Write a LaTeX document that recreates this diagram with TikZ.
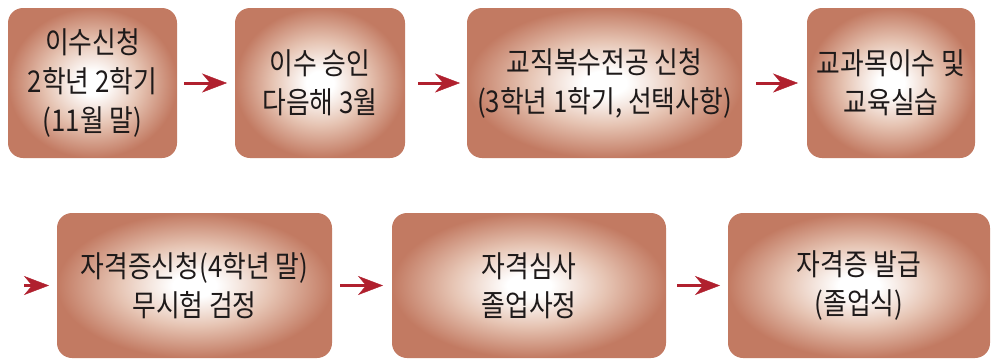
\documentclass[tikz,border=0pt]{standalone}
\usepackage{fontspec}
\setmainfont{Noto Sans CJK KR}[FakeStretch=0.86]
\usetikzlibrary{arrows.meta}
\definecolor{boxbrown}{HTML}{C27A62}
\definecolor{boxmid}{HTML}{E6C4B3}
\definecolor{arrred}{HTML}{B0202E}
\definecolor{txt}{HTML}{1E1A1A}
\pgfdeclareradialshading{boxglow}{\pgfpoint{0bp}{0bp}}{color(0bp)=(white); color(4bp)=(white); color(14bp)=(boxmid); color(25bp)=(boxbrown); color(50bp)=(boxbrown)}
\begin{document}
\begin{tikzpicture}[x=1pt,y=-1pt,
  stepbox/.style 2 args={rounded corners=15pt, shading=boxglow, outer sep=0pt, inner sep=0pt,
    minimum width=#1, minimum height=#2, align=center, text=txt,
    font=\fontsize{30}{39}\selectfont},
  arr/.style={draw=arrred, line width=3pt,
    -{Stealth[length=25pt,width=19pt,inset=8pt,line width=0.4pt,fill=arrred]}}]
\useasboundingbox (0,0) rectangle (992,360);
% row 1
\node[stepbox={169pt}{150pt}] (b1) at (92.5,83) {이수신청\\2학년 2학기\\(11월 말)};
\node[stepbox={170pt}{150pt}] (b2) at (320,83) {이수 승인\\다음해 3월};
\node[stepbox={275pt}{150pt}] (b3) at (604.5,83) {교직복수전공 신청\\(3학년 1학기, 선택사항)};
\node[stepbox={168pt}{150pt}] (b4) at (891,83) {교과목이수 및\\교육실습};
% row 2
\node[stepbox={275pt}{145pt}] (b5) at (194.5,285.5) {자격증신청(4학년 말)\\무시험 검정};
\node[stepbox={274pt}{145pt}] (b6) at (529,285.5) {자격심사\\졸업사정};
\node[stepbox={262pt}{145pt}] (b7) at (859,285.5) {자격증 발급\\(졸업식)};
\coordinate (c0) at (24,285.5);
% connectors
\draw[arr, shorten <=7pt, shorten >=8pt] (b1) -- (b2);
\draw[arr, shorten <=13pt, shorten >=7pt] (b2) -- (b3);
\draw[arr, shorten <=14pt, shorten >=9pt] (b3) -- (b4);
\draw[arr, shorten >=8pt] (c0) -- (b5);
\draw[arr, shorten <=8pt, shorten >=9pt] (b5) -- (b6);
\draw[arr, shorten <=11pt, shorten >=8pt] (b6) -- (b7);
\end{tikzpicture}
\end{document}
